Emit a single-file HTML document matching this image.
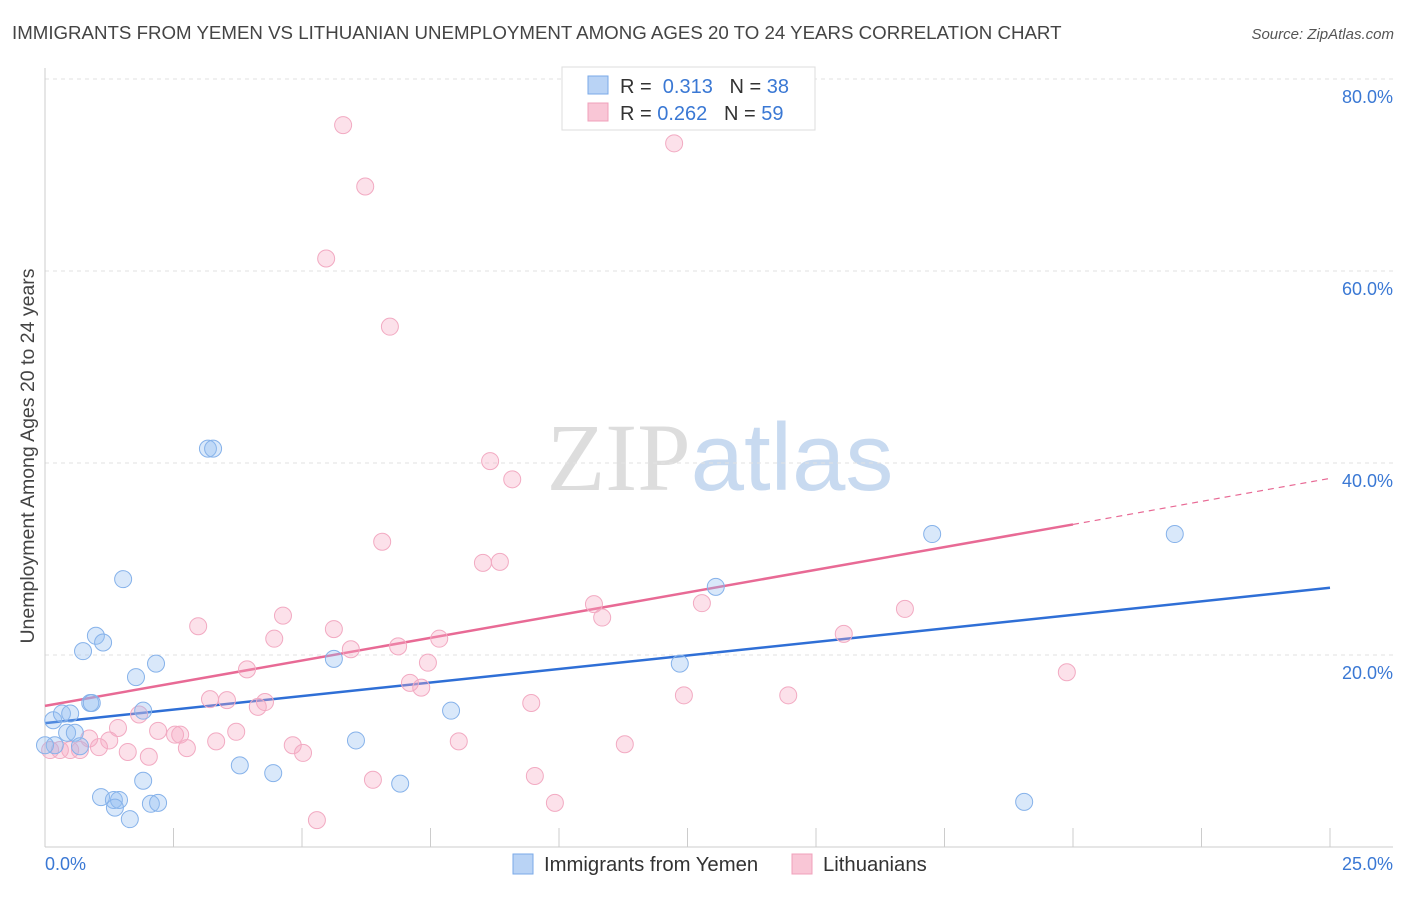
<!DOCTYPE html>
<html><head><meta charset="utf-8">
<style>
body{margin:0;background:#fff;font-family:"Liberation Sans",sans-serif;}
svg text{font-family:"Liberation Sans",sans-serif;}
</style></head>
<body>
<svg id="chart" width="1406" height="892" viewBox="0 0 1406 892" xmlns="http://www.w3.org/2000/svg">
<text x="12" y="39" font-size="18.7" fill="#444">IMMIGRANTS FROM YEMEN VS LITHUANIAN UNEMPLOYMENT AMONG AGES 20 TO 24 YEARS CORRELATION CHART</text>
<text x="1394" y="39" font-size="15" fill="#555" text-anchor="end" font-style="italic">Source: ZipAtlas.com</text>
<text x="720" y="490" font-size="96" text-anchor="middle"><tspan fill="#ddd" font-family="Liberation Serif">ZIP</tspan><tspan fill="#c8daf0">atlas</tspan></text>
<g id="grid"></g>
<g id="axes"></g>
<g id="lines"></g>
<g id="pts"></g>
<text transform="translate(34,456) rotate(-90)" font-size="19.5" fill="#444" text-anchor="middle">Unemployment Among Ages 20 to 24 years</text>
<g>
<rect x="562" y="67" width="253" height="63" fill="#fff" stroke="#ddd"/>
<rect x="588" y="76" width="20" height="18" fill="#b9d3f5" stroke="#7aaae8"/>
<text x="620" y="93" font-size="20" fill="#333">R = <tspan fill="#3a78d4">&#160;0.313</tspan>&#160;&#160;&#160;N = <tspan fill="#3a78d4">38</tspan></text>
<rect x="588" y="103" width="20" height="18" fill="#f9c6d6" stroke="#f0a0bb"/>
<text x="620" y="120" font-size="20" fill="#333">R = <tspan fill="#3a78d4">0.262</tspan>&#160;&#160;&#160;N = <tspan fill="#3a78d4">59</tspan></text>
</g>
<g>
<rect x="513" y="854" width="20" height="20" fill="#b9d3f5" stroke="#7aaae8"/>
<text x="544" y="871" font-size="20.3" fill="#333">Immigrants from Yemen</text>
<rect x="792" y="854" width="20" height="20" fill="#f9c6d6" stroke="#f0a0bb"/>
<text x="823" y="871" font-size="20.3" fill="#333">Lithuanians</text>
</g>
</svg>
<script>
const xTickVals=[0,2.5,5,7.5,10,12.5,15,17.5,20,22.5,25];
const yTickVals=[20,40,60,80];
const yemenX=[0.16,0.33,0.49,0.43,0.58,0.19,0.68,0.88,0.91,0.99,1.13,0.74,1.52,1.77,2.16,1.91,1.91,1.09,1.34,1.44,1.36,1.65,2.06,2.20,3.17,3.27,3.79,4.44,5.62,6.05,6.91,7.90,12.35,13.05,17.26,19.05,21.98,0];
const yemenY=[13.2,13.9,13.9,11.9,11.9,10.6,10.5,15.0,15.0,22.0,21.3,20.4,27.9,17.7,19.1,14.2,6.9,5.2,4.9,4.9,4.1,2.9,4.5,4.6,41.5,41.5,8.5,7.7,19.6,11.1,6.6,14.2,19.1,27.1,32.6,4.7,32.6,10.6];
const lithX=[5.80,6.23,12.24,5.47,6.71,8.66,9.09,6.56,8.52,8.85,10.68,10.84,12.78,16.73,15.54,19.88,4.63,4.46,2.98,5.62,5.95,6.87,7.67,7.45,7.10,7.32,3.93,3.21,3.54,4.28,4.14,3.72,1.83,1.42,2.20,2.53,2.63,2.76,3.33,4.82,5.02,2.02,1.61,1.25,1.05,0.86,0.68,0.49,0.29,0.10,8.05,9.46,12.43,14.46,11.28,6.38,9.53,9.92,5.29];
const lithY=[75.2,68.8,73.3,61.3,54.2,40.2,38.3,31.8,29.6,29.7,25.3,23.9,25.4,24.8,22.2,18.2,24.1,21.7,23.0,22.7,20.6,20.9,21.7,19.2,17.1,16.6,18.5,15.4,15.3,15.1,14.6,12.0,13.8,12.4,12.1,11.7,11.7,10.3,11.0,10.6,9.8,9.4,9.9,11.1,10.4,11.3,10.1,10.1,10.1,10.1,11.0,15.0,15.8,15.8,10.7,7.0,7.4,4.6,2.8];
const yemenFit=[12.9,27.0];
const lithFit=[14.7,33.6,38.4];
const fitXEnd=[25,20];

const X=v=>45+v*51.4;
const Y=v=>847-v*9.6;
const NS="http://www.w3.org/2000/svg";
function mk(parent,tag,attrs){const e=document.createElementNS(NS,tag);for(const k in attrs)e.setAttribute(k,attrs[k]);document.getElementById(parent).appendChild(e);return e;}

yTickVals.forEach(v=>{
  const l=mk('grid','line',{x1:45,x2:1393,y1:Y(v),y2:Y(v),stroke:'#e2e2e2','stroke-dasharray':'4,4'});
  
  
  const t=mk('grid','text',{x:1393,y:Y(v)+24,'font-size':18,fill:'#3a78d4','text-anchor':'end'});
  t.textContent=v.toFixed(1)+'%';
  
  
});
const topGrid=mk('grid','line',{x1:45,x2:1393,y1:79,y2:79,stroke:'#e2e2e2','stroke-dasharray':'4,4'});


const ya=mk('axes','line',{x1:45,x2:45,y1:68,y2:847,stroke:'#ccc'});


const xa=mk('axes','line',{x1:45,x2:1393,y1:847,y2:847,stroke:'#ccc'});


xTickVals.forEach(v=>{
  const l=mk('axes','line',{x1:X(v),x2:X(v),y1:828,y2:847,stroke:'#ccc'});
  
  
});
[[0,'start'],[25,'end']].forEach(([v,a])=>{
  const t=mk('axes','text',{x:v===0?45:1393,y:870,'font-size':18,fill:'#3a78d4','text-anchor':a});
  t.textContent=v.toFixed(1)+'%';
  
  
});

function dots(xs,ys,fill,stroke,name){
  xs.forEach((x,i)=>{
    const c=mk('pts','circle',{cx:X(x),cy:Y(ys[i]),r:8.5,fill:fill,stroke:stroke,'stroke-width':1});
    
    
  });
}
dots(lithX,lithY,'rgba(245,170,195,0.35)','#f2aac2','lithuanian-point');
dots(yemenX,yemenY,'rgba(147,190,240,0.35)','#86b2ea','yemen-point');

const bl=mk('lines','line',{x1:X(0),y1:Y(yemenFit[0]),x2:X(fitXEnd[0]),y2:Y(yemenFit[1]),stroke:'#2f6fd6','stroke-width':2.5});


const pl=mk('lines','line',{x1:X(0),y1:Y(lithFit[0]),x2:X(fitXEnd[1]),y2:Y(lithFit[1]),stroke:'#e86a95','stroke-width':2.5});


const pd=mk('lines','line',{x1:X(fitXEnd[1]),y1:Y(lithFit[1]),x2:X(fitXEnd[0]),y2:Y(lithFit[2]),stroke:'#e86a95','stroke-width':1.2,'stroke-dasharray':'6,5'});


</script>
</body></html>
